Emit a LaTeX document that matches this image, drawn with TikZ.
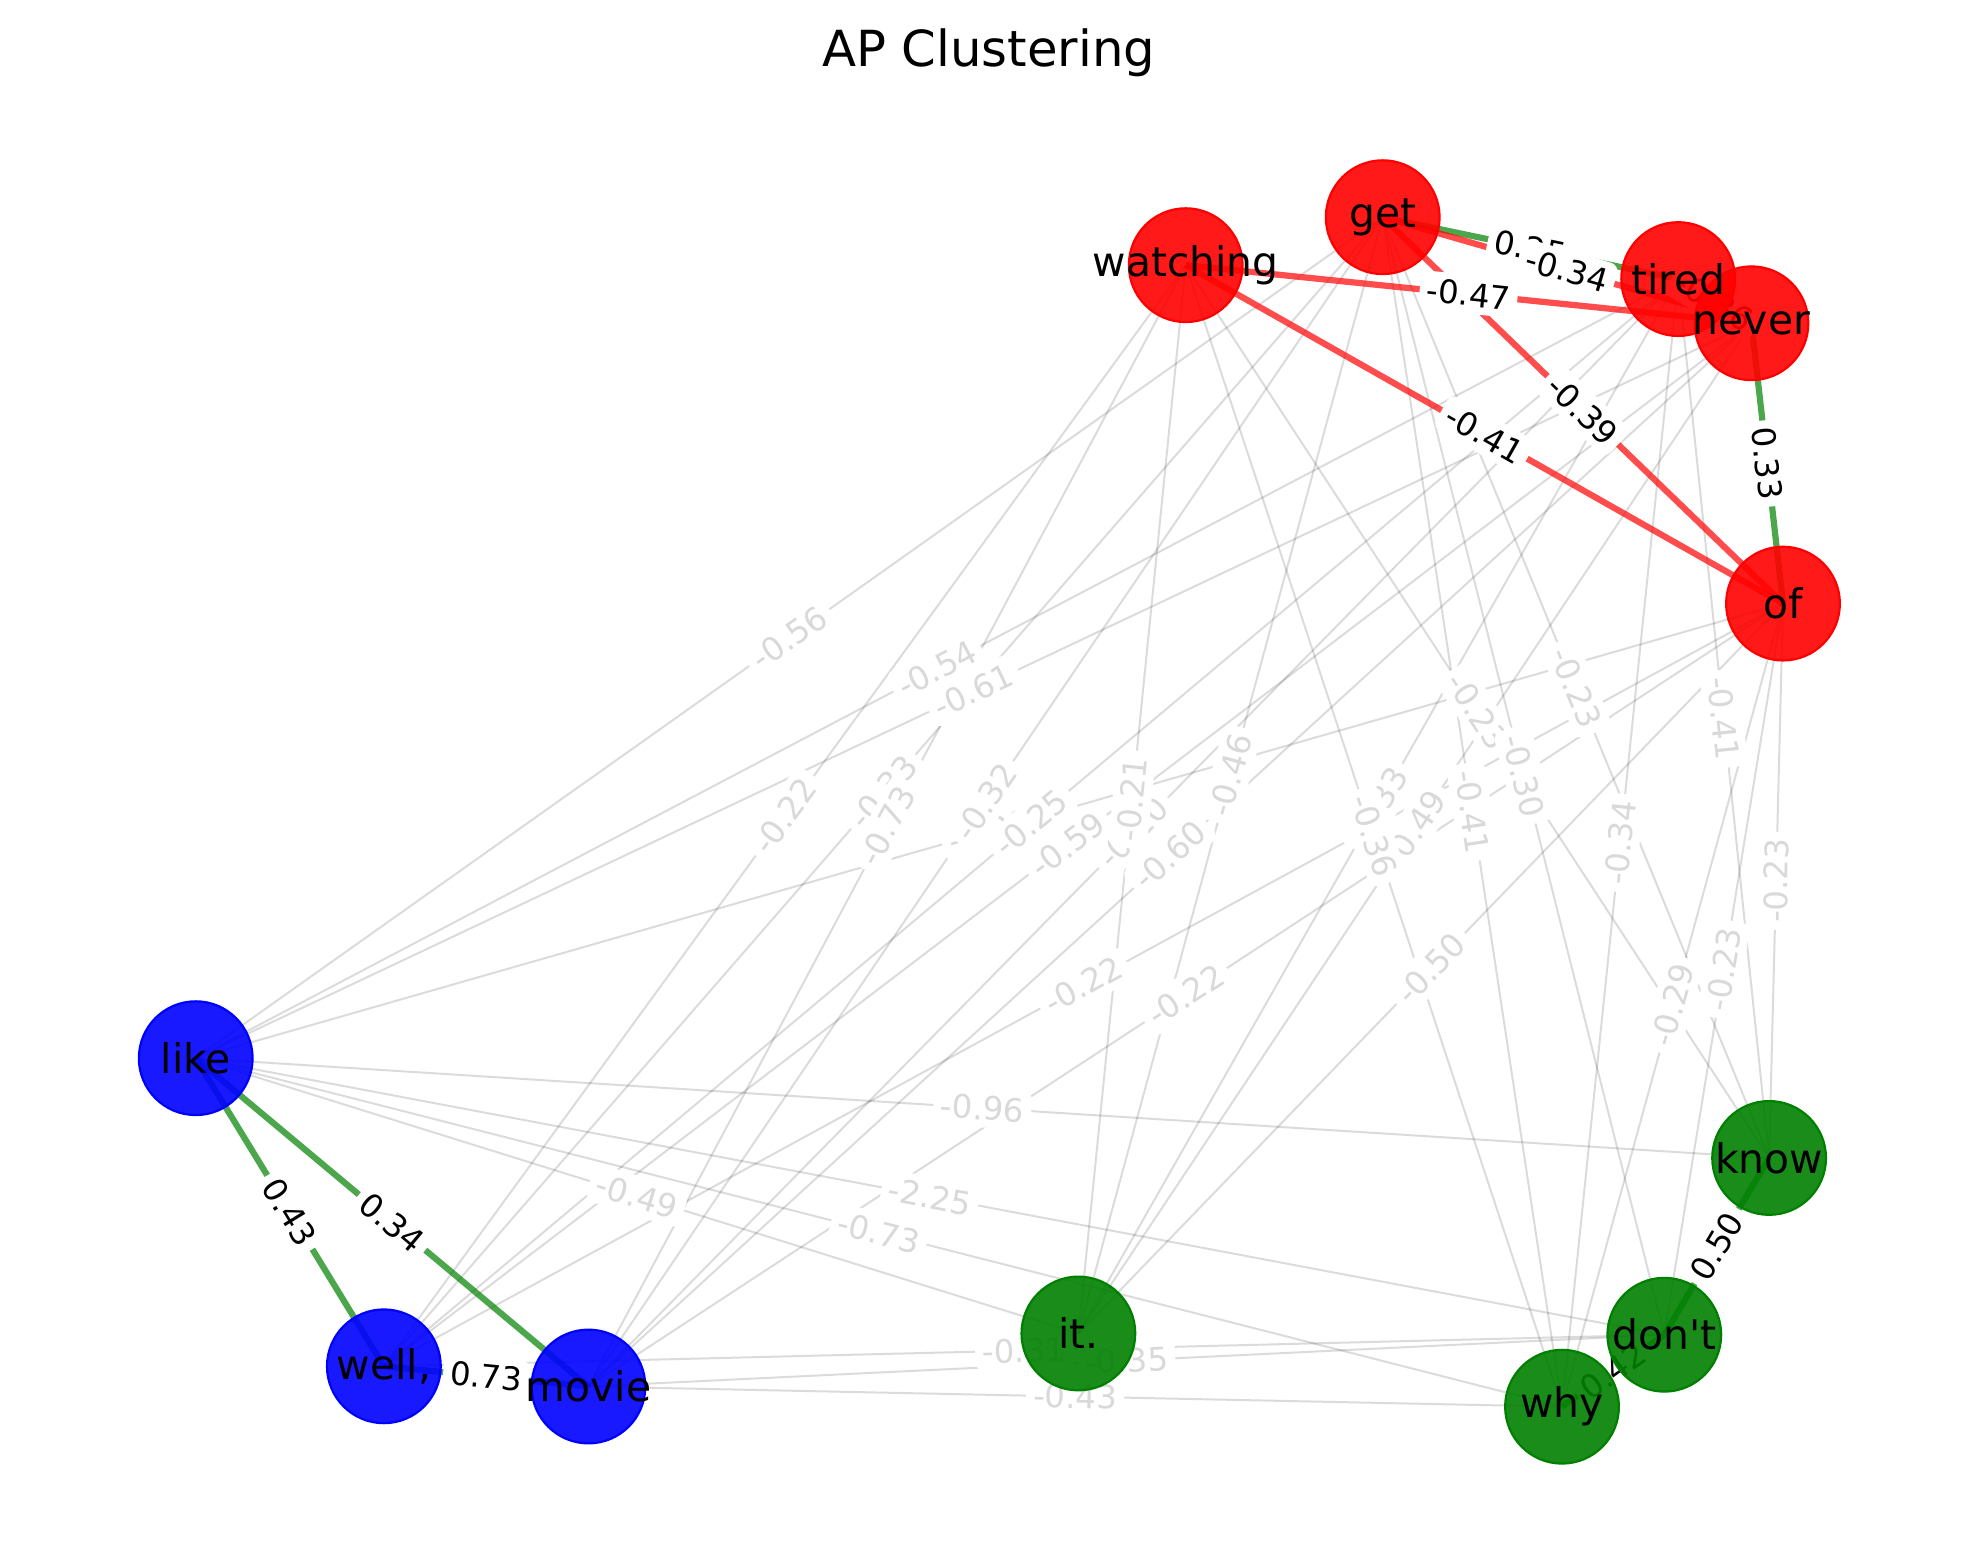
\documentclass[tikz,border=0pt]{standalone}
\usepackage{fontspec}
\setmainfont{DejaVu Sans}
\newfontfamily\dvsans{DejaVu Sans}
\definecolor{mplgreen}{RGB}{0,128,0}
\newcommand\myNodeFont{\dvsans\fontsize{9.2}{11}\selectfont}
\newcommand\myEdgeFont{\dvsans\fontsize{7.3}{8.8}\selectfont}
\newcommand\myTitleFont{\dvsans\fontsize{11.2}{13.4}\selectfont}
\pgfdeclarelayer{edgelayer}
\pgfdeclarelayer{labellayer}
\pgfsetlayers{edgelayer,labellayer,main}
\begin{document}
\begin{tikzpicture}[x=0.01cm,y=-0.01cm,
  base/.style={circle,minimum size=0.9cm,inner sep=0pt,fill opacity=0.9,line width=0.5pt},
  rnode/.style={base,fill=red,draw=red},
  bnode/.style={base,fill=blue,draw=blue},
  gnode/.style={base,fill=mplgreen,draw=mplgreen},
  ntext/.style={font=\myNodeFont,text=black,inner sep=0pt},
  gedge/.style={draw=black,draw opacity=0.14,line width=0.45pt},
  redge/.style={draw=red,draw opacity=0.7,line width=1.4pt},
  pedge/.style={draw=mplgreen,draw opacity=0.7,line width=1.4pt},
  glab/.style={midway,sloped,fill=white,rounded corners=2pt,inner sep=1.6pt,text=black!15,font=\myEdgeFont},
  klab/.style={glab,text=black}]
\useasboundingbox (0,0) rectangle (1568,1237.8);

\node[font=\myTitleFont] (title) at (783,42) {AP Clustering};

% node discs (sentence order)
\node[bnode] (well) at (304,1082) {};
\node[rnode] (never) at (1387,256) {};
\node[rnode] (get) at (1095,172) {};
\node[rnode] (tired) at (1329,221) {};
\node[rnode] (of) at (1412,478) {};
\node[rnode] (watching) at (939,210) {};
\node[gnode] (it) at (854,1056) {};
\node[gnode] (dont) at (1318,1057) {};
\node[gnode] (know) at (1401,917) {};
\node[gnode] (why) at (1237,1114) {};
\node[bnode] (like) at (155,838) {};
\node[bnode] (movie) at (466,1098) {};

% node texts
\node[ntext] (t-well) at (well) {well,};
\node[ntext] (t-never) at (never) {never};
\node[ntext] (t-get) at (get) {get};
\node[ntext] (t-tired) at (tired) {tired};
\node[ntext] (t-of) at (of) {of};
\node[ntext] (t-watching) at (watching) {watching};
\node[ntext] (t-it) at (it) {it.};
\node[ntext] (t-dont) at (dont) {don't};
\node[ntext] (t-know) at (know) {know};
\node[ntext] (t-why) at (why) {why};
\node[ntext] (t-like) at (like) {like};
\node[ntext] (t-movie) at (movie) {movie};

\def\grayedges{like/get/-0.56, like/tired/-0.54, like/never/-0.61, like/of/-0.28,
  like/it/-0.49, like/know/-0.96, like/dont/-2.25, like/why/-0.73,
  well/watching/-0.22, well/get/-0.33, well/tired/-0.25, well/never/-0.59,
  well/of/-0.22, well/dont/-0.31, movie/watching/-0.73, movie/get/-0.32,
  movie/tired/-0.20, movie/never/-0.60, movie/of/-0.22, movie/dont/-0.35,
  movie/why/-0.43, it/watching/-0.21, it/get/-0.46, it/tired/-0.33,
  it/never/-0.49, it/of/-0.50, watching/know/-0.23, watching/why/-0.36,
  get/know/-0.23, get/dont/-0.30, get/why/-0.41, tired/know/-0.41,
  tired/why/-0.34, of/know/-0.23, of/why/-0.29, of/dont/-0.23}
\def\posedges{get/tired/0.25, never/of/0.33, like/well/0.43, like/movie/0.34,
  well/movie/0.73, know/dont/0.50, dont/why/0.42}
\def\negedges{tired/never/-0.36, get/never/-0.34, watching/never/-0.47,
  watching/of/-0.41, get/of/-0.39}

\begin{pgfonlayer}{edgelayer}
  \foreach \a/\b/\w in \grayedges {\draw[gedge] (\a.center) -- (\b.center);}
  \foreach \a/\b/\w in \posedges {\draw[pedge] (\a.center) -- (\b.center);}
  \foreach \a/\b/\w in \negedges {\draw[redge] (\a.center) -- (\b.center);}
\end{pgfonlayer}

\begin{pgfonlayer}{labellayer}
  \foreach \a/\b/\w in \grayedges {\path (\a.center) -- (\b.center) node[glab] {\w};}
  \foreach \a/\b/\w in \posedges {\path (\a.center) -- (\b.center) node[klab] {\w};}
  \foreach \a/\b/\w in \negedges {\path (\a.center) -- (\b.center) node[klab] {\w};}
\end{pgfonlayer}
\end{tikzpicture}
\end{document}
